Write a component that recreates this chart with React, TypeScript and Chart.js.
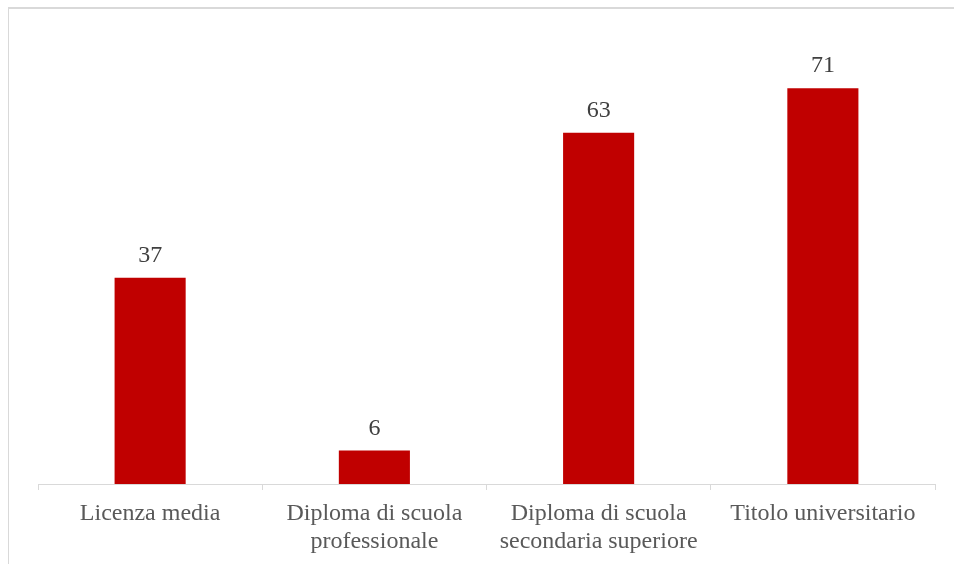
import React, { useEffect, useRef } from "react";
import { Chart, registerables } from "chart.js";

Chart.register(...registerables);

const categories: (string | string[])[] = [
  "Licenza media",
  ["Diploma di scuola", "professionale"],
  ["Diploma di scuola", "secondaria superiore"],
  "Titolo universitario",
];
const values: number[] = [37, 6, 63, 71];

const FONT = "'Liberation Serif', 'Times New Roman', serif";

const valueLabels = {
  id: "valueLabels",
  afterDatasetsDraw(chart: any) {
    const ctx = chart.ctx;
    const meta = chart.getDatasetMeta(0);
    ctx.save();
    ctx.font = `24px ${FONT}`;
    ctx.fillStyle = "#404040";
    ctx.textAlign = "center";
    ctx.textBaseline = "alphabetic";
    meta.data.forEach((el: any, i: number) => {
      ctx.fillText(String(values[i]), el.x, el.y - 16);
    });
    ctx.restore();
  },
};

export default function App() {
  const ref = useRef<HTMLCanvasElement | null>(null);
  useEffect(() => {
    document.documentElement.style.overflow = "hidden";
    document.body.style.overflow = "hidden";
    const chart = new Chart(ref.current!, {
      type: "bar",
      data: {
        labels: categories,
        datasets: [
          {
            data: values,
            backgroundColor: "#C00000",
            borderWidth: 0,
            barPercentage: 1,
            categoryPercentage: 0.317,
          },
        ],
      },
      options: {
        animation: false,
        responsive: false,
        layout: { padding: { left: 29, right: 19, top: 30, bottom: 0 } },
        plugins: { legend: { display: false }, tooltip: { enabled: false } },
        scales: {
          x: {
            offset: true,
            grid: {
              offset: true,
              drawOnChartArea: false,
              drawTicks: true,
              tickLength: 6,
              color: "#d9d9d9",
              lineWidth: 1,
            },
            border: { display: true, color: "#d9d9d9", width: 1 },
            ticks: {
              color: "#595959",
              font: { family: FONT, size: 24, lineHeight: 1.2 },
              padding: 9,
              maxRotation: 0,
              autoSkip: false,
            },
            afterFit(scale: any) {
              scale.height = 80;
            },
          },
          y: { display: false, min: 0, max: 80 },
        },
      },
      plugins: [valueLabels],
    });
    return () => chart.destroy();
  }, []);
  return (
    <div
      style={{
        position: "absolute",
        left: 8,
        top: 7,
        width: 960,
        height: 570,
        borderTop: "2px solid #d9d9d9",
        borderLeft: "1px solid #d9d9d9",
        boxSizing: "border-box",
        overflow: "hidden",
        background: "#fff",
      }}
    >
      <canvas ref={ref} width={945} height={556} style={{ display: "block", marginTop: -1 }} />
    </div>
  );
}
